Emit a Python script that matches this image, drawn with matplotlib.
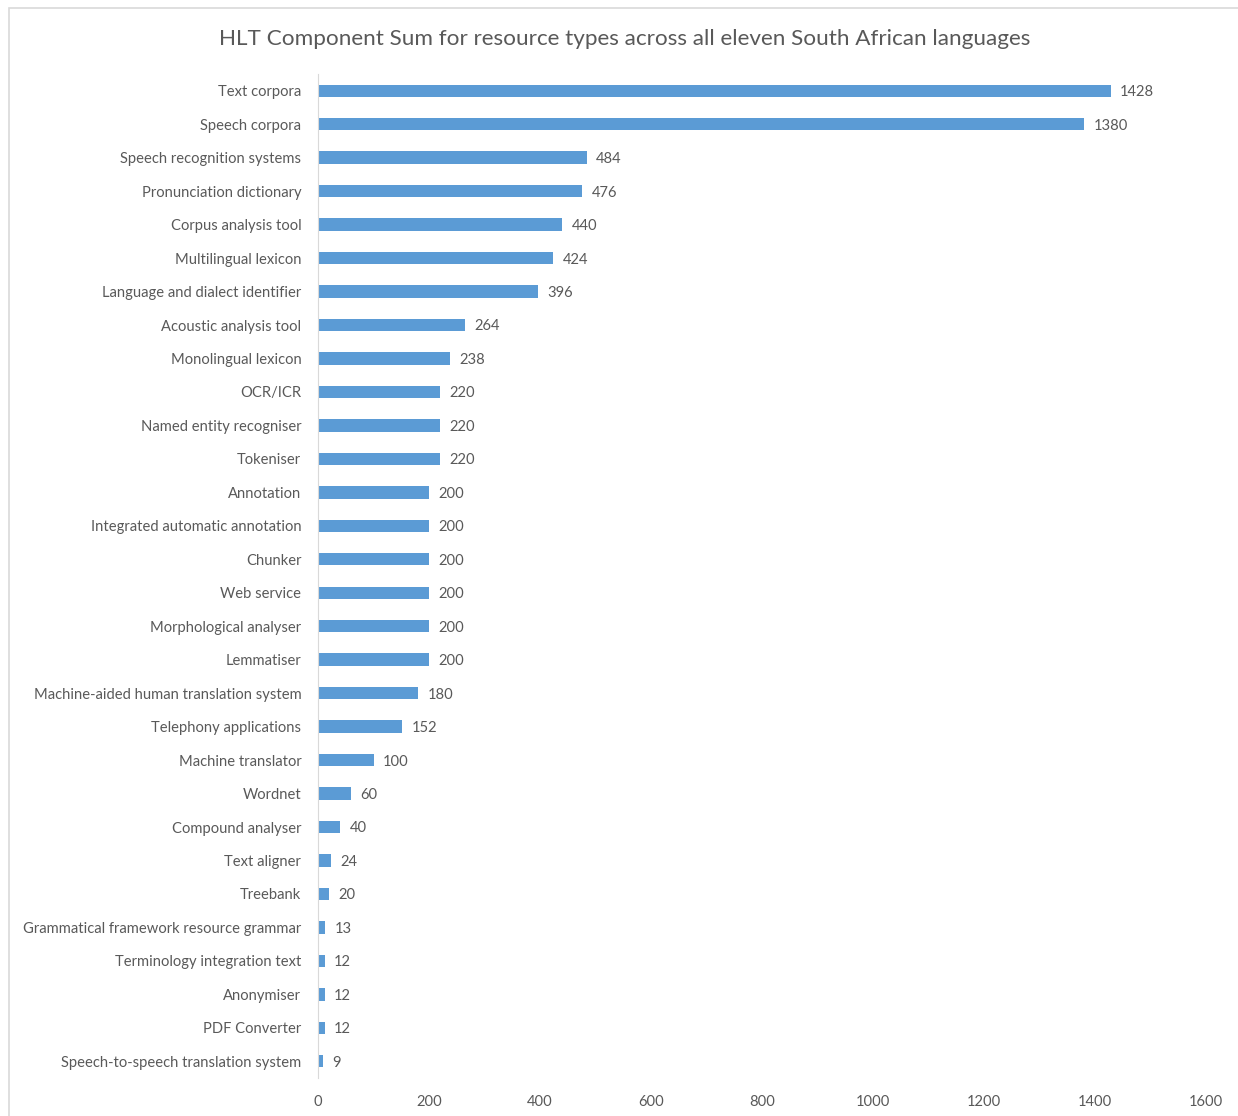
import matplotlib.pyplot as plt
from matplotlib.patches import Rectangle

# categories, top to bottom as shown
categories = ["Text corpora", "Speech corpora", "Speech recognition systems",
              "Pronunciation dictionary", "Corpus analysis tool", "Multilingual lexicon",
              "Language and dialect identifier", "Acoustic analysis tool",
              "Monolingual lexicon", "OCR/ICR", "Named entity recogniser", "Tokeniser",
              "Annotation", "Integrated automatic annotation", "Chunker", "Web service",
              "Morphological analyser", "Lemmatiser",
              "Machine-aided human translation system", "Telephony applications",
              "Machine translator", "Wordnet", "Compound analyser", "Text aligner",
              "Treebank", "Grammatical framework resource grammar",
              "Terminology integration text", "Anonymiser", "PDF Converter",
              "Speech-to-speech translation system"]
values = [1428, 1380, 484, 476, 440, 424, 396, 264, 238, 220, 220, 220, 200, 200,
          200, 200, 200, 200, 180, 152, 100, 60, 40, 24, 20, 13, 12, 12, 12, 9]
xticks = [0, 200, 400, 600, 800, 1000, 1200, 1400, 1600]

txt = "#595959"
bar_col = "#5B9BD5"
plt.rcParams['font.family'] = ['Lato', 'DejaVu Sans']

fig = plt.figure(figsize=(12.38, 11.16), dpi=100)
# chart border (light gray, runs off the right/bottom edge)
fig.patches.append(Rectangle((9 / 1238, -0.1), 1.2, 1 - 8 / 1116 + 0.1,
                             transform=fig.transFigure, fill=False,
                             edgecolor="#D9D9D9", linewidth=1.2))

ax = fig.add_axes([318 / 1238, 1 - 1078 / 1116, 888 / 1238, 1004 / 1116])
ypos = list(range(len(categories)))
ax.barh(ypos, values, height=0.37, color=bar_col)
ax.set_ylim(len(categories) - 0.5, -0.5)
ax.set_xlim(0, 1600)
ax.set_yticks(ypos)
ax.set_yticklabels(categories, fontsize=10.6, color=txt)
ax.set_xticks(xticks)
ax.set_xticklabels([str(t) for t in xticks], fontsize=10.6, color=txt)
ax.tick_params(axis='both', length=0)
ax.tick_params(axis='y', pad=12)
ax.tick_params(axis='x', pad=12)

for s in ["top", "right", "bottom"]:
    ax.spines[s].set_visible(False)
ax.spines["left"].set_color("#D9D9D9")

for y, v in zip(ypos, values):
    ax.text(v + 17, y, str(v), va='center_baseline', ha='left', fontsize=10.6, color=txt)

fig.text(625 / 1238, 1 - 39 / 1116, "HLT Component Sum for resource types across all eleven South African languages",
         ha='center', va='center', fontsize=16.2, color=txt)

fig.savefig("out.png", dpi=100)
